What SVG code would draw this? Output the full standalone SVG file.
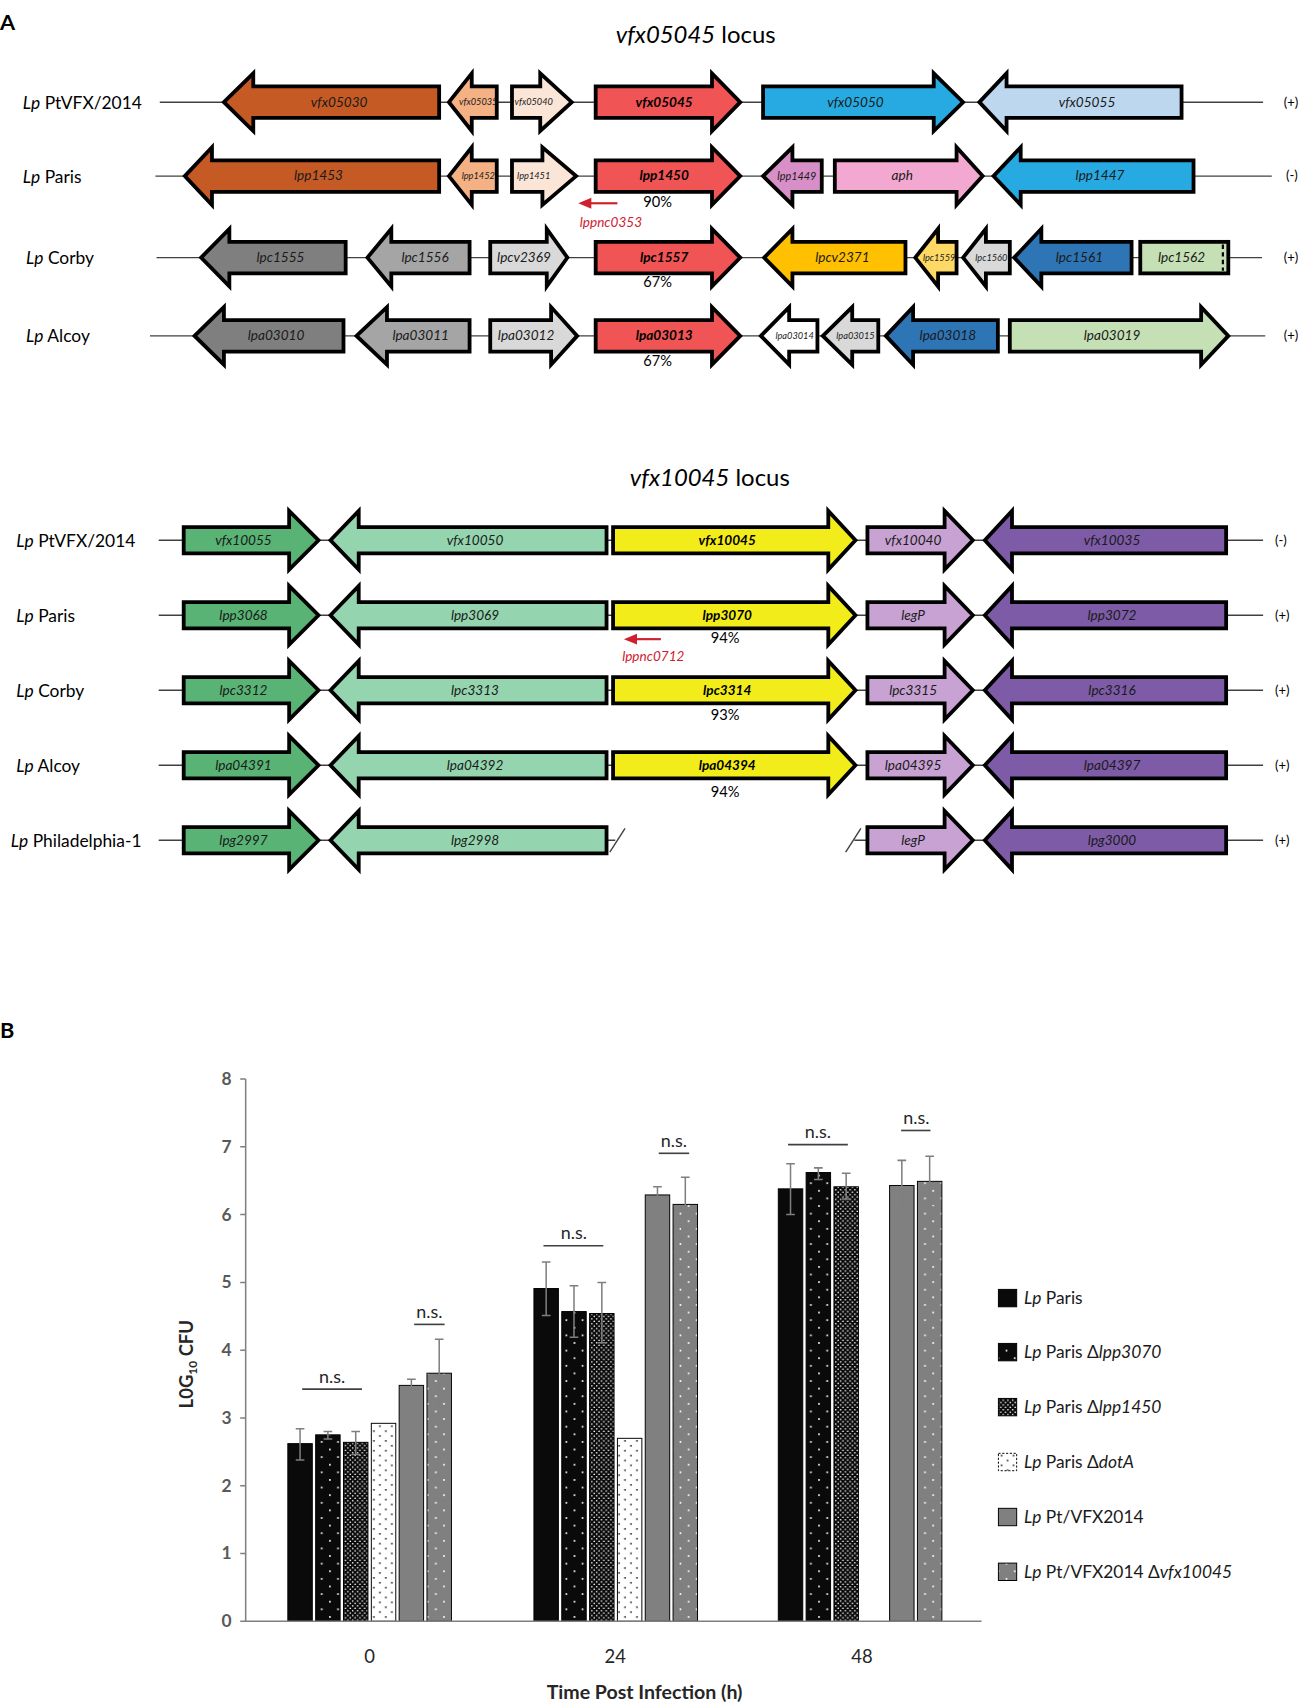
<svg xmlns="http://www.w3.org/2000/svg" width="1299" height="1705" viewBox="0 0 1299 1705">
<defs>
<style>
.t{font-family:Lato,"Open Sans","Liberation Sans",sans-serif}
.g polygon,.g rect{stroke:#000;stroke-width:3.5;stroke-linejoin:miter}
.gl{font-family:Lato,"Open Sans","Liberation Sans",sans-serif;font-style:italic;font-size:12.5px;text-anchor:middle;fill:#1a1a1a}
.gs{font-size:8.5px}
.gm{font-size:10px}
.gb{font-weight:bold;fill:#000}
.rl{font-size:16px;fill:#000}
.st{font-size:12px;fill:#000}
.pc{font-size:13.5px;text-anchor:middle;fill:#000}
.bk{stroke:#404040;stroke-width:1.3;fill:none}
.bb{stroke:#000;stroke-width:0.9}
.eb{stroke:#7f7f7f;stroke-width:1.4;fill:none}
.ns{font-size:16.5px;text-anchor:middle;fill:#262626}
.nsl{stroke:#404040;stroke-width:1.5}
.ax{stroke:#7f7f7f;stroke-width:1.4;fill:none}
.tk{font-size:16px;font-weight:bold;fill:#595959;text-anchor:end}
.lg{font-size:16px;fill:#1a1a1a}
.red{fill:#D0202E}
</style>
<pattern id="pSparse" width="15" height="14" patternUnits="userSpaceOnUse"><rect width="15" height="14" fill="#0a0a0a"/><circle cx="3.5" cy="3.5" r="0.9" fill="#fff"/><circle cx="11" cy="10.5" r="0.9" fill="#fff"/></pattern>
<pattern id="pDense" width="4.4" height="4.4" patternUnits="userSpaceOnUse"><rect width="4.4" height="4.4" fill="#0a0a0a"/><circle cx="1.1" cy="1.1" r="0.75" fill="#fff"/><circle cx="3.3" cy="3.3" r="0.75" fill="#fff"/></pattern>
<pattern id="pDotA" width="11" height="9" patternUnits="userSpaceOnUse"><rect width="11" height="9" fill="#fff"/><circle cx="3" cy="2.5" r="0.8" fill="#000"/><circle cx="8.5" cy="7" r="0.8" fill="#000"/></pattern>
<pattern id="pGrayDot" width="15" height="14" patternUnits="userSpaceOnUse"><rect width="15" height="14" fill="#808080"/><circle cx="3.5" cy="3.5" r="0.9" fill="#fff"/><circle cx="11" cy="10.5" r="0.9" fill="#fff"/></pattern>
</defs>
<rect width="1299" height="1705" fill="#fff"/>
<g transform="scale(1.087)">
<text class="t" x="0" y="28" font-size="20" font-weight="bold">A</text>
<text class="t" x="640" y="40" font-size="22" text-anchor="middle"><tspan font-style="italic">vfx05045</tspan> locus</text>
<text class="t" x="653" y="447" font-size="22" text-anchor="middle"><tspan font-style="italic">vfx10045</tspan> locus</text>

<g id="connectors">
<line class="bk" x1="147" y1="94" x2="1162" y2="94"/>
<line class="bk" x1="143" y1="162" x2="1170" y2="162"/>
<line class="bk" x1="144" y1="237" x2="1161" y2="237"/>
<line class="bk" x1="138" y1="309" x2="1164" y2="309"/>
<line class="bk" x1="146" y1="497" x2="1162" y2="497"/>
<line class="bk" x1="146" y1="566" x2="1162" y2="566"/>
<line class="bk" x1="146" y1="635" x2="1162" y2="635"/>
<line class="bk" x1="146" y1="704" x2="1162" y2="704"/>
<line class="bk" x1="146" y1="773" x2="566" y2="773"/>
<line class="bk" x1="786" y1="773" x2="1162" y2="773"/>
<line class="bk" x1="561" y1="784" x2="575" y2="762"/>
<line class="bk" x1="778" y1="784" x2="792" y2="762"/>
</g>

<!-- Row A1 -->
<g id="rowA1" transform="translate(0,94)">
<text class="t rl" x="21" y="6"><tspan font-style="italic">Lp</tspan> PtVFX/2014</text>
<g id="vfx05030" class="g"><polygon fill="#C55A24" points="206,0 233,-26.5 233,-14.5 404,-14.5 404,14.5 233,14.5 233,26.5"/><text class="gl" x="312" y="4">vfx05030</text></g>
<g id="vfx05035" class="g"><polygon fill="#F4B183" points="413,0 434,-26.5 434,-14.5 457,-14.5 457,14.5 434,14.5 434,26.5"/><text class="gl gs" x="440" y="3">vfx05035</text></g>
<g id="vfx05040" class="g"><polygon fill="#FBE5D6" points="471,-14.5 497,-14.5 497,-26.5 526,0 497,26.5 497,14.5 471,14.5"/><text class="gl gs" x="491" y="3">vfx05040</text></g>
<g id="vfx05045" class="g"><polygon fill="#F05454" points="548,-14.5 655,-14.5 655,-26.5 681,0 655,26.5 655,14.5 548,14.5"/><text class="gl gb" x="611" y="4">vfx05045</text></g>
<g id="vfx05050" class="g"><polygon fill="#27AAE1" points="702,-14.5 859,-14.5 859,-26.5 886,0 859,26.5 859,14.5 702,14.5"/><text class="gl" x="787" y="4">vfx05050</text></g>
<g id="vfx05055" class="g"><polygon fill="#BDD7EE" points="901,0 926,-26.5 926,-14.5 1087,-14.5 1087,14.5 926,14.5 926,26.5"/><text class="gl" x="1000" y="4">vfx05055</text></g>
<text class="t st" x="1181" y="4">(+)</text>
</g>

<!-- Row A2 -->
<g id="rowA2" transform="translate(0,162)">
<text class="t rl" x="21" y="6"><tspan font-style="italic">Lp</tspan> Paris</text>
<g id="lpp1453" class="g"><polygon fill="#C55A24" points="170,0 195,-26.5 195,-14.5 404,-14.5 404,14.5 195,14.5 195,26.5"/><text class="gl" x="293" y="4">lpp1453</text></g>
<g id="lpp1452" class="g"><polygon fill="#F4B183" points="413,0 434,-26.5 434,-14.5 457,-14.5 457,14.5 434,14.5 434,26.5"/><text class="gl gs" x="440" y="3">lpp1452</text></g>
<g id="lpp1451" class="g"><polygon fill="#FBE5D6" points="471,-14.5 499,-14.5 499,-26.5 530,0 499,26.5 499,14.5 471,14.5"/><text class="gl gs" x="491" y="3">lpp1451</text></g>
<g id="lpp1450" class="g"><polygon fill="#F05454" points="548,-14.5 655,-14.5 655,-26.5 681,0 655,26.5 655,14.5 548,14.5"/><text class="gl gb" x="611" y="4">lpp1450</text></g>
<g id="lpp1449" class="g"><polygon fill="#D88FC7" points="702,0 729,-26.5 729,-14.5 756,-14.5 756,14.5 729,14.5 729,26.5"/><text class="gl gm" x="733" y="4">lpp1449</text></g>
<g id="aph" class="g"><polygon fill="#F2A8D0" points="768,-14.5 880,-14.5 880,-26.5 904,0 880,26.5 880,14.5 768,14.5"/><text class="gl" x="830" y="4">aph</text></g>
<g id="lpp1447" class="g"><polygon fill="#27AAE1" points="914,0 939,-26.5 939,-14.5 1098,-14.5 1098,14.5 939,14.5 939,26.5"/><text class="gl" x="1012" y="4">lpp1447</text></g>
<text class="t st" x="1183" y="4">(-)</text>
<text class="t pc" x="605" y="28">90%</text>
<g id="lppnc0353"><line x1="568" y1="25" x2="542" y2="25" stroke="#D0202E" stroke-width="2"/><polygon class="red" points="532,25 544,20 544,30"/><text class="gl red" x="562" y="47" font-size="11.5">lppnc0353</text></g>
</g>

<!-- Row A3 -->
<g id="rowA3" transform="translate(0,237)">
<text class="t rl" x="24" y="6"><tspan font-style="italic">Lp</tspan> Corby</text>
<g id="lpc1555" class="g"><polygon fill="#7F7F7F" points="185,0 211,-26.5 211,-14.5 318,-14.5 318,14.5 211,14.5 211,26.5"/><text class="gl" x="258" y="4">lpc1555</text></g>
<g id="lpc1556" class="g"><polygon fill="#A5A5A5" points="338,0 360,-26.5 360,-14.5 432,-14.5 432,14.5 360,14.5 360,26.5"/><text class="gl" x="391" y="4">lpc1556</text></g>
<g id="lpcv2369" class="g"><polygon fill="#D9D9D9" points="451,-14.5 503,-14.5 503,-26.5 522,0 503,26.5 503,14.5 451,14.5"/><text class="gl" x="482" y="4">lpcv2369</text></g>
<g id="lpc1557" class="g"><polygon fill="#F05454" points="548,-14.5 655,-14.5 655,-26.5 681,0 655,26.5 655,14.5 548,14.5"/><text class="gl gb" x="611" y="4">lpc1557</text></g>
<g id="lpcv2371" class="g"><polygon fill="#FFC000" points="703,0 729,-26.5 729,-14.5 833,-14.5 833,14.5 729,14.5 729,26.5"/><text class="gl" x="775" y="4">lpcv2371</text></g>
<g id="lpc1559" class="g"><polygon fill="#FFD966" points="842,0 863,-26.5 863,-14.5 880,-14.5 880,14.5 863,14.5 863,26.5"/><text class="gl gs" x="864" y="3">lpc1559</text></g>
<g id="lpc1560" class="g"><polygon fill="#D9D9D9" points="886,0 907,-26.5 907,-14.5 929,-14.5 929,14.5 907,14.5 907,26.5"/><text class="gl gs" x="912" y="3">lpc1560</text></g>
<g id="lpc1561" class="g"><polygon fill="#2E75B6" points="933,0 958,-26.5 958,-14.5 1041,-14.5 1041,14.5 958,14.5 958,26.5"/><text class="gl" x="993" y="4">lpc1561</text></g>
<g id="lpc1562" class="g"><rect fill="#C5E0B4" x="1049" y="-14.5" width="81" height="29"/><line x1="1125" y1="-12" x2="1125" y2="12" stroke="#000" stroke-width="2" stroke-dasharray="4,3"/><text class="gl" x="1087" y="4">lpc1562</text></g>
<text class="t st" x="1181" y="4">(+)</text>
<text class="t pc" x="605" y="27">67%</text>
</g>

<!-- Row A4 -->
<g id="rowA4" transform="translate(0,309)">
<text class="t rl" x="24" y="6"><tspan font-style="italic">Lp</tspan> Alcoy</text>
<g id="lpa03010" class="g"><polygon fill="#7F7F7F" points="179,0 206,-26.5 206,-14.5 316,-14.5 316,14.5 206,14.5 206,26.5"/><text class="gl" x="254" y="4">lpa03010</text></g>
<g id="lpa03011" class="g"><polygon fill="#A5A5A5" points="328,0 356,-26.5 356,-14.5 432,-14.5 432,14.5 356,14.5 356,26.5"/><text class="gl" x="387" y="4">lpa03011</text></g>
<g id="lpa03012" class="g"><polygon fill="#D9D9D9" points="451,-14.5 507,-14.5 507,-26.5 531,0 507,26.5 507,14.5 451,14.5"/><text class="gl" x="484" y="4">lpa03012</text></g>
<g id="lpa03013" class="g"><polygon fill="#F05454" points="548,-14.5 655,-14.5 655,-26.5 681,0 655,26.5 655,14.5 548,14.5"/><text class="gl gb" x="611" y="4">lpa03013</text></g>
<g id="lpa03014" class="g"><polygon fill="#FFFFFF" points="700,0 726,-26.5 726,-14.5 752,-14.5 752,14.5 726,14.5 726,26.5"/><text class="gl gs" x="731" y="3">lpa03014</text></g>
<g id="lpa03015" class="g"><polygon fill="#D9D9D9" points="757,0 784,-26.5 784,-14.5 808,-14.5 808,14.5 784,14.5 784,26.5"/><text class="gl gs" x="787" y="3">lpa03015</text></g>
<g id="lpa03018" class="g"><polygon fill="#2E75B6" points="815,0 840,-26.5 840,-14.5 918,-14.5 918,14.5 840,14.5 840,26.5"/><text class="gl" x="872" y="4">lpa03018</text></g>
<g id="lpa03019" class="g"><polygon fill="#C5E0B4" points="929,-14.5 1105,-14.5 1105,-26.5 1130,0 1105,26.5 1105,14.5 929,14.5"/><text class="gl" x="1023" y="4">lpa03019</text></g>
<text class="t st" x="1181" y="4">(+)</text>
<text class="t pc" x="605" y="28">67%</text>
</g>

<!-- Row B1 -->
<g id="rowB1" transform="translate(0,497)">
<text class="t rl" x="15" y="6"><tspan font-style="italic">Lp</tspan> PtVFX/2014</text>
<g id="vfx10055" class="g"><polygon fill="#58B374" points="169,-12 266,-12 266,-27 293,0 266,27 266,12 169,12"/><text class="gl" x="224" y="4">vfx10055</text></g>
<g id="vfx10050" class="g"><polygon fill="#94D4AE" points="304,0 330,-27 330,-12 558,-12 558,12 330,12 330,27"/><text class="gl" x="437" y="4">vfx10050</text></g>
<g id="vfx10045" class="g"><polygon fill="#F2EC1A" points="564,-12 762,-12 762,-27 787,0 762,27 762,12 564,12"/><text class="gl gb" x="669" y="4">vfx10045</text></g>
<g id="vfx10040" class="g"><polygon fill="#C8A2D3" points="798,-12 869,-12 869,-27 895,0 869,27 869,12 798,12"/><text class="gl" x="840" y="4">vfx10040</text></g>
<g id="vfx10035" class="g"><polygon fill="#7D5BA6" points="906,0 931,-27 931,-12 1128,-12 1128,12 931,12 931,27"/><text class="gl" x="1023" y="4">vfx10035</text></g>
<text class="t st" x="1173" y="4">(-)</text>
</g>

<!-- Row B2 -->
<g id="rowB2" transform="translate(0,566)">
<text class="t rl" x="15" y="6"><tspan font-style="italic">Lp</tspan> Paris</text>
<g id="lpp3068" class="g"><polygon fill="#58B374" points="169,-12 266,-12 266,-27 293,0 266,27 266,12 169,12"/><text class="gl" x="224" y="4">lpp3068</text></g>
<g id="lpp3069" class="g"><polygon fill="#94D4AE" points="304,0 330,-27 330,-12 558,-12 558,12 330,12 330,27"/><text class="gl" x="437" y="4">lpp3069</text></g>
<g id="lpp3070" class="g"><polygon fill="#F2EC1A" points="564,-12 762,-12 762,-27 787,0 762,27 762,12 564,12"/><text class="gl gb" x="669" y="4">lpp3070</text></g>
<g id="legP-paris" class="g"><polygon fill="#C8A2D3" points="798,-12 869,-12 869,-27 895,0 869,27 869,12 798,12"/><text class="gl" x="840" y="4">legP</text></g>
<g id="lpp3072" class="g"><polygon fill="#7D5BA6" points="906,0 931,-27 931,-12 1128,-12 1128,12 931,12 931,27"/><text class="gl" x="1023" y="4">lpp3072</text></g>
<text class="t st" x="1173" y="4">(+)</text>
<text class="t pc" x="667" y="26">94%</text>
<g id="lppnc0712"><line x1="608" y1="22" x2="584" y2="22" stroke="#D0202E" stroke-width="2"/><polygon class="red" points="574,22 586,17 586,27"/><text class="gl red" x="601" y="42" font-size="11.5">lppnc0712</text></g>
</g>

<!-- Row B3 -->
<g id="rowB3" transform="translate(0,635)">
<text class="t rl" x="15" y="6"><tspan font-style="italic">Lp</tspan> Corby</text>
<g id="lpc3312" class="g"><polygon fill="#58B374" points="169,-12 266,-12 266,-27 293,0 266,27 266,12 169,12"/><text class="gl" x="224" y="4">lpc3312</text></g>
<g id="lpc3313" class="g"><polygon fill="#94D4AE" points="304,0 330,-27 330,-12 558,-12 558,12 330,12 330,27"/><text class="gl" x="437" y="4">lpc3313</text></g>
<g id="lpc3314" class="g"><polygon fill="#F2EC1A" points="564,-12 762,-12 762,-27 787,0 762,27 762,12 564,12"/><text class="gl gb" x="669" y="4">lpc3314</text></g>
<g id="lpc3315" class="g"><polygon fill="#C8A2D3" points="798,-12 869,-12 869,-27 895,0 869,27 869,12 798,12"/><text class="gl" x="840" y="4">lpc3315</text></g>
<g id="lpc3316" class="g"><polygon fill="#7D5BA6" points="906,0 931,-27 931,-12 1128,-12 1128,12 931,12 931,27"/><text class="gl" x="1023" y="4">lpc3316</text></g>
<text class="t st" x="1173" y="4">(+)</text>
<text class="t pc" x="667" y="27">93%</text>
</g>

<!-- Row B4 -->
<g id="rowB4" transform="translate(0,704)">
<text class="t rl" x="15" y="6"><tspan font-style="italic">Lp</tspan> Alcoy</text>
<g id="lpa04391" class="g"><polygon fill="#58B374" points="169,-12 266,-12 266,-27 293,0 266,27 266,12 169,12"/><text class="gl" x="224" y="4">lpa04391</text></g>
<g id="lpa04392" class="g"><polygon fill="#94D4AE" points="304,0 330,-27 330,-12 558,-12 558,12 330,12 330,27"/><text class="gl" x="437" y="4">lpa04392</text></g>
<g id="lpa04394" class="g"><polygon fill="#F2EC1A" points="564,-12 762,-12 762,-27 787,0 762,27 762,12 564,12"/><text class="gl gb" x="669" y="4">lpa04394</text></g>
<g id="lpa04395" class="g"><polygon fill="#C8A2D3" points="798,-12 869,-12 869,-27 895,0 869,27 869,12 798,12"/><text class="gl" x="840" y="4">lpa04395</text></g>
<g id="lpa04397" class="g"><polygon fill="#7D5BA6" points="906,0 931,-27 931,-12 1128,-12 1128,12 931,12 931,27"/><text class="gl" x="1023" y="4">lpa04397</text></g>
<text class="t st" x="1173" y="4">(+)</text>
<text class="t pc" x="667" y="29">94%</text>
</g>

<!-- Row B5 -->
<g id="rowB5" transform="translate(0,773)">
<text class="t rl" x="10" y="6"><tspan font-style="italic">Lp</tspan> Philadelphia-1</text>
<g id="lpg2997" class="g"><polygon fill="#58B374" points="169,-12 266,-12 266,-27 293,0 266,27 266,12 169,12"/><text class="gl" x="224" y="4">lpg2997</text></g>
<g id="lpg2998" class="g"><polygon fill="#94D4AE" points="304,0 330,-27 330,-12 558,-12 558,12 330,12 330,27"/><text class="gl" x="437" y="4">lpg2998</text></g>
<g id="legP-phil" class="g"><polygon fill="#C8A2D3" points="798,-12 869,-12 869,-27 895,0 869,27 869,12 798,12"/><text class="gl" x="840" y="4">legP</text></g>
<g id="lpg3000" class="g"><polygon fill="#7D5BA6" points="906,0 931,-27 931,-12 1128,-12 1128,12 931,12 931,27"/><text class="gl" x="1023" y="4">lpg3000</text></g>
<text class="t st" x="1173" y="4">(+)</text>
</g>

<!-- Panel B -->
<text class="t" x="0" y="955" font-size="20" font-weight="bold">B</text>
<g id="chart">
<g id="bars">
<rect class="bb" x="264.8" y="1328.1" width="22.5" height="163.4" fill="#0a0a0a"/>
<rect class="bb" x="290.4" y="1320.0" width="22.5" height="171.5" fill="url(#pSparse)"/>
<rect class="bb" x="316.0" y="1326.9" width="22.5" height="164.6" fill="url(#pDense)"/>
<rect class="bb" x="341.6" y="1309.4" width="22.5" height="182.1" fill="url(#pDotA)"/>
<rect class="bb" x="367.2" y="1274.5" width="22.5" height="217" fill="#808080"/>
<rect class="bb" x="392.8" y="1263.3" width="22.5" height="228.2" fill="url(#pGrayDot)"/>
<rect class="bb" x="491.2" y="1185.4" width="22.5" height="306.1" fill="#0a0a0a"/>
<rect class="bb" x="516.8" y="1206.6" width="22.5" height="284.9" fill="url(#pSparse)"/>
<rect class="bb" x="542.4" y="1208.4" width="22.5" height="283.1" fill="url(#pDense)"/>
<rect class="bb" x="568.0" y="1323.2" width="22.5" height="168.3" fill="url(#pDotA)"/>
<rect class="bb" x="593.6" y="1099.3" width="22.5" height="392.2" fill="#808080"/>
<rect class="bb" x="619.2" y="1108.0" width="22.5" height="383.5" fill="url(#pGrayDot)"/>
<rect class="bb" x="716.0" y="1093.7" width="22.5" height="397.8" fill="#0a0a0a"/>
<rect class="bb" x="741.6" y="1078.7" width="22.5" height="412.8" fill="url(#pSparse)"/>
<rect class="bb" x="767.2" y="1091.8" width="22.5" height="399.7" fill="url(#pDense)"/>
<rect class="bb" x="818.4" y="1090.6" width="22.5" height="400.9" fill="#808080"/>
<rect class="bb" x="844.0" y="1086.8" width="22.5" height="404.7" fill="url(#pGrayDot)"/>
</g>
<g id="errorbars">
<path class="eb" d="M276.05,1314.4V1343.1M272.05,1314.4H280.05M272.05,1343.1H280.05"/>
<path class="eb" d="M301.65,1316.9V1323.8M297.65,1316.9H305.65M297.65,1323.8H305.65"/>
<path class="eb" d="M327.25,1316.9V1338.1M323.25,1316.9H331.25M323.25,1338.1H331.25"/>
<path class="eb" d="M378.45,1268.9V1277.6M374.45,1268.9H382.45M374.45,1277.6H382.45"/>
<path class="eb" d="M404.05,1232.1V1294.5M400.05,1232.1H408.05M400.05,1294.5H408.05"/>
<path class="eb" d="M502.45,1161.0V1210.3M498.45,1161.0H506.45M498.45,1210.3H506.45"/>
<path class="eb" d="M528.05,1182.9V1230.3M524.05,1182.9H532.05M524.05,1230.3H532.05"/>
<path class="eb" d="M553.65,1179.8V1235.2M549.65,1179.8H557.65M549.65,1235.2H557.65"/>
<path class="eb" d="M604.85,1091.8V1106.2M600.85,1091.8H608.85M600.85,1106.2H608.85"/>
<path class="eb" d="M630.45,1083.1V1130.5M626.45,1083.1H634.45M626.45,1130.5H634.45"/>
<path class="eb" d="M727.25,1070.6V1117.4M723.25,1070.6H731.25M723.25,1117.4H731.25"/>
<path class="eb" d="M752.85,1074.4V1085.0M748.85,1074.4H756.85M748.85,1085.0H756.85"/>
<path class="eb" d="M778.45,1079.4V1103.1M774.45,1079.4H782.45M774.45,1103.1H782.45"/>
<path class="eb" d="M829.65,1067.5V1113.7M825.65,1067.5H833.65M825.65,1113.7H833.65"/>
<path class="eb" d="M855.25,1063.8V1110.5M851.25,1063.8H859.25M851.25,1110.5H859.25"/>
</g>
<g id="significance">
<line class="nsl" x1="278" y1="1278" x2="333" y2="1278"/><text class="t ns" x="305.5" y="1272">n.s.</text>
<line class="nsl" x1="381" y1="1218.4" x2="409" y2="1218.4"/><text class="t ns" x="395" y="1212.4">n.s.</text>
<line class="nsl" x1="500" y1="1146" x2="555" y2="1146"/><text class="t ns" x="528" y="1140">n.s.</text>
<line class="nsl" x1="606" y1="1061" x2="634" y2="1061"/><text class="t ns" x="620" y="1055">n.s.</text>
<line class="nsl" x1="725" y1="1053" x2="780" y2="1053"/><text class="t ns" x="752.5" y="1047">n.s.</text>
<line class="nsl" x1="829" y1="1040" x2="856" y2="1040"/><text class="t ns" x="843" y="1034">n.s.</text>
</g>
<g id="axes">
<path class="ax" d="M226,992.7V1491.5H903"/>
<path class="ax" d="M221,1491.5H226M221,1429.15H226M221,1366.8H226M221,1304.45H226M221,1242.1H226M221,1179.75H226M221,1117.4H226M221,1055.05H226M221,992.7H226"/>
<text class="t tk" x="213" y="1497">0</text>
<text class="t tk" x="213" y="1434.6">1</text>
<text class="t tk" x="213" y="1372.3">2</text>
<text class="t tk" x="213" y="1310">3</text>
<text class="t tk" x="213" y="1247.6">4</text>
<text class="t tk" x="213" y="1185.2">5</text>
<text class="t tk" x="213" y="1122.9">6</text>
<text class="t tk" x="213" y="1060.5">7</text>
<text class="t tk" x="213" y="998.2">8</text>
<text class="t" x="340" y="1530" font-size="17" text-anchor="middle" fill="#262626">0</text>
<text class="t" x="566" y="1530" font-size="17" text-anchor="middle" fill="#262626">24</text>
<text class="t" x="793" y="1530" font-size="17" text-anchor="middle" fill="#262626">48</text>
<text class="t" x="593" y="1563" font-size="18" font-weight="bold" text-anchor="middle" fill="#262626">Time Post Infection (h)</text>
<text class="t" transform="translate(178,1255) rotate(-90)" font-size="17" font-weight="bold" text-anchor="middle" fill="#262626">L0G<tspan font-size="11" dy="3">10</tspan><tspan dy="-3"> CFU</tspan></text>
</g>
<g id="legend">
<rect class="bb" x="918.5" y="1186.2" width="16.8" height="16" fill="#0a0a0a"/>
<text class="t lg" x="942" y="1200"><tspan font-style="italic">Lp</tspan> Paris</text>
<rect class="bb" x="918.5" y="1235.9" width="16.8" height="16" fill="url(#pSparse)"/>
<text class="t lg" x="942" y="1249.7"><tspan font-style="italic">Lp</tspan> Paris Δ<tspan font-style="italic">lpp3070</tspan></text>
<rect class="bb" x="918.5" y="1286.5" width="16.8" height="16" fill="url(#pDense)"/>
<text class="t lg" x="942" y="1300.3"><tspan font-style="italic">Lp</tspan> Paris Δ<tspan font-style="italic">lpp1450</tspan></text>
<rect class="bb" x="918.5" y="1337" width="16.8" height="16" fill="url(#pDotA)" stroke-dasharray="2,1.5"/>
<text class="t lg" x="942" y="1350.8"><tspan font-style="italic">Lp</tspan> Paris Δ<tspan font-style="italic">dotA</tspan></text>
<rect class="bb" x="918.5" y="1387.6" width="16.8" height="16" fill="#808080"/>
<text class="t lg" x="942" y="1401.4"><tspan font-style="italic">Lp</tspan> Pt/VFX2014</text>
<rect class="bb" x="918.5" y="1438" width="16.8" height="16" fill="url(#pGrayDot)"/>
<text class="t lg" x="942" y="1451.8"><tspan font-style="italic">Lp</tspan> Pt/VFX2014 Δ<tspan font-style="italic">vfx10045</tspan></text>
</g>
</g>
</g>
</svg>
